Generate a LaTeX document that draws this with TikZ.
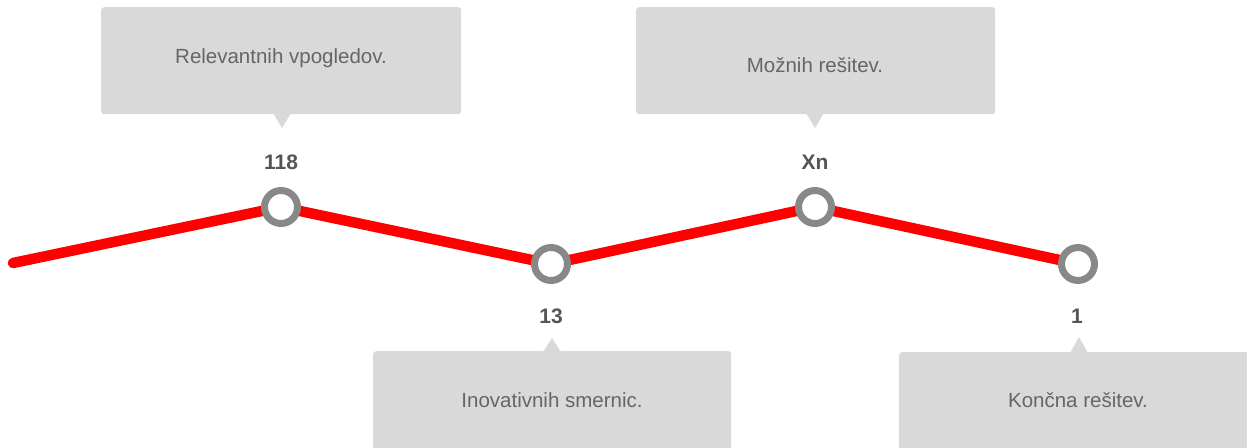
\documentclass[tikz,border=0pt]{standalone}
\usepackage{fontspec}
\setmainfont{Liberation Sans}
\usetikzlibrary{backgrounds}
\definecolor{lineRed}{HTML}{FF0000}
\definecolor{ringGray}{HTML}{888888}
\definecolor{boxGray}{HTML}{D9D9D9}
\definecolor{boxText}{HTML}{666666}
\definecolor{numText}{HTML}{555555}
\tikzset{
  stop/.style={circle, draw=ringGray, line width=7pt, fill=white, minimum size=33pt, inner sep=0pt},
  trail/.style={draw=lineRed, line width=10.5pt, line cap=round, line join=round},
  card/.style={rectangle, fill=boxGray, rounded corners=3pt, inner sep=0pt},
  cardtext/.style={text=boxText, font=\fontsize{20.5}{24}\selectfont, inner sep=0pt},
  count/.style={text=numText, font=\fontsize{21}{24}\selectfont\bfseries, inner sep=0pt},
}
\begin{document}
\begin{tikzpicture}[x=1pt, y=-1pt]
\useasboundingbox (0,0) rectangle (1247,447);
\clip (0,0) rectangle (1247,447);

% stops along the trail
\coordinate (s0) at (13,263);
\node[stop] (n1) at (281,207) {};
\node[stop] (n2) at (551,264) {};
\node[stop] (n3) at (815,207) {};
\node[stop] (n4) at (1078,264) {};

\begin{scope}[on background layer]
  \draw[trail] (s0) -- (n1.center) -- (n2.center) -- (n3.center) -- (n4.center);
\end{scope}

% counts
\node[count] (c1) at (281,162) {118};
\node[count] (c2) at (551,316) {13};
\node[count] (c3) at (815,162) {Xn};
\node[count] (c4) at (1077,316) {1};

% upper cards
\node[card, minimum width=360pt, minimum height=107pt, anchor=north west] (b1) at (101,7) {};
\fill[boxGray] (273,113) -- (282,128) -- (291,113) -- cycle;
\node[cardtext] (t1) at (281,58) {Relevantnih vpogledov.};

\node[card, minimum width=359pt, minimum height=107pt, anchor=north west] (b3) at (636,7) {};
\fill[boxGray] (806,113) -- (815,128) -- (824,113) -- cycle;
\node[cardtext] (t3) at (815,65) {Možnih rešitev.};

% lower cards
\node[card, minimum width=358pt, minimum height=110pt, anchor=north west] (b2) at (373,351) {};
\fill[boxGray] (543,352) -- (552,338) -- (561,352) -- cycle;
\node[cardtext] (t2) at (552,400) {Inovativnih smernic.};

\node[card, minimum width=360pt, minimum height=110pt, anchor=north west] (b4) at (899,352) {};
\fill[boxGray] (1070,353) -- (1079,337) -- (1088,353) -- cycle;
\node[cardtext] (t4) at (1078,400) {Končna rešitev.};
\end{tikzpicture}
\end{document}
